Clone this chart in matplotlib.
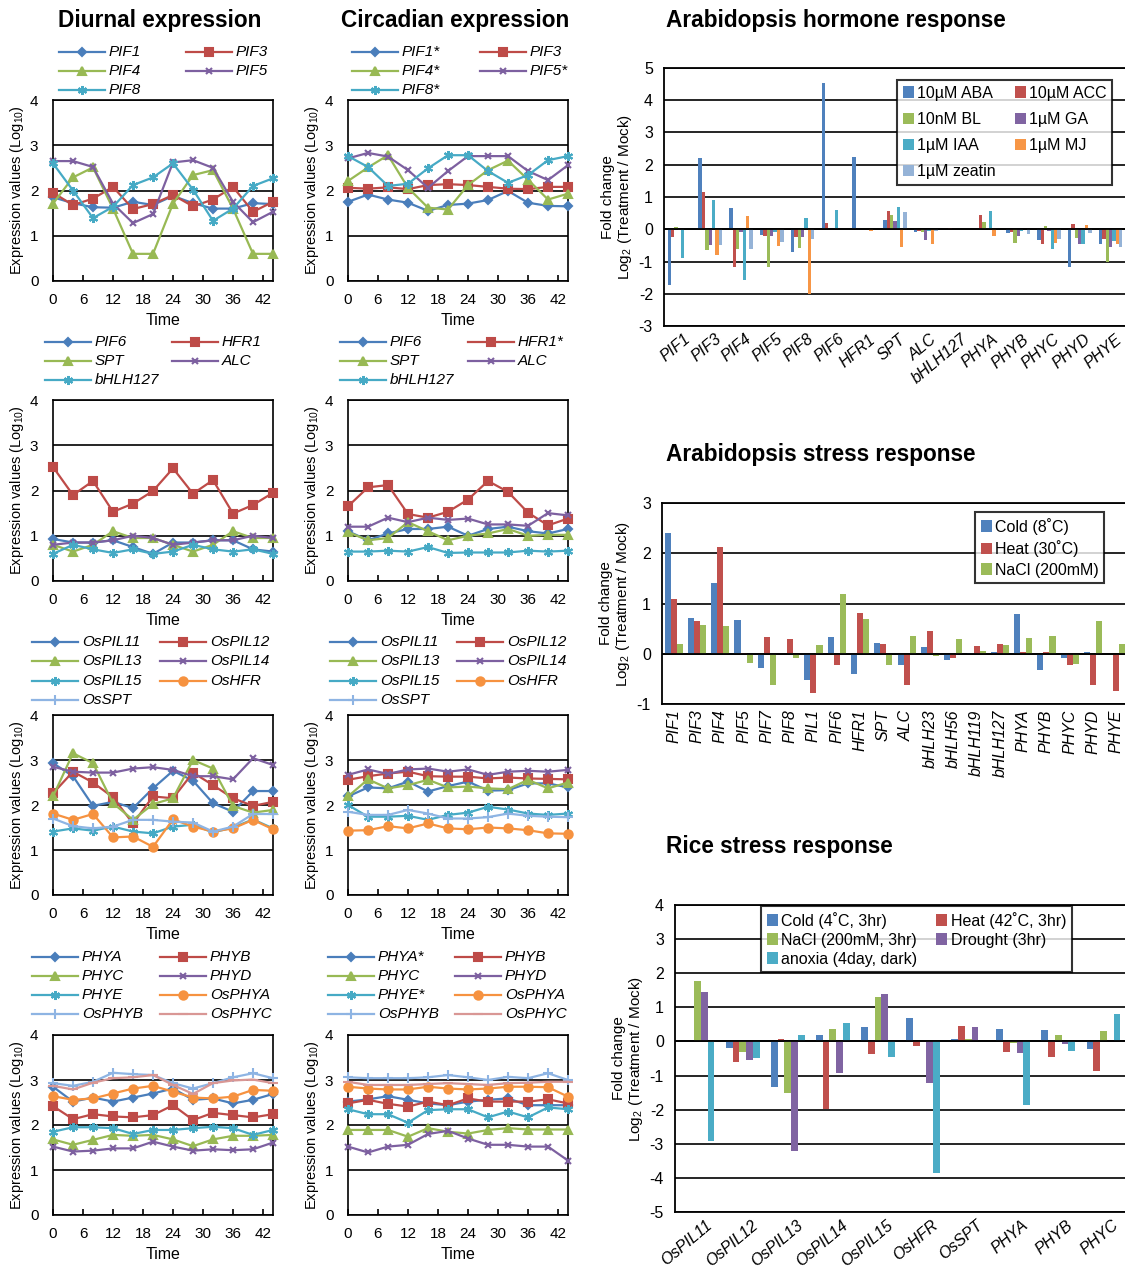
#!/usr/bin/env python3
"""PIF / phytochrome expression panels"""
import matplotlib
matplotlib.use('Agg')
import matplotlib.pyplot as plt
from matplotlib.lines import Line2D
from matplotlib.patches import Patch
from matplotlib.transforms import ScaledTranslation

plt.rcParams['font.family'] = ['Liberation Sans', 'DejaVu Sans']
plt.rcParams['mathtext.fontset'] = 'custom'
plt.rcParams['mathtext.rm'] = 'Liberation Sans'
plt.rcParams['mathtext.default'] = 'regular'
plt.rcParams['axes.unicode_minus'] = False

W, H = 1125, 1276

# ---------------- line panel data ----------------
time_h = [0, 4, 8, 12, 16, 20, 24, 28, 32, 36, 40, 44]
time_ticks = [0, 6, 12, 18, 24, 30, 36, 42]

pif_labels_d = ['PIF1', 'PIF3', 'PIF4', 'PIF5', 'PIF8']
pif_labels_c = ['PIF1*', 'PIF3', 'PIF4*', 'PIF5*', 'PIF8*']
pif_diurnal = [
    [1.85, 1.72, 1.63, 1.62, 1.75, 1.68, 1.88, 1.72, 1.60, 1.60, 1.72, 1.70],
    [1.95, 1.68, 1.82, 2.08, 1.59, 1.70, 1.90, 1.65, 1.80, 2.08, 1.53, 1.75],
    [1.71, 2.29, 2.51, 1.60, 0.60, 0.60, 1.71, 2.34, 2.45, 1.60, 0.60, 0.60],
    [2.65, 2.65, 2.52, 1.71, 1.28, 1.48, 2.62, 2.67, 2.50, 1.75, 1.30, 1.53],
    [2.60, 2.00, 1.39, 1.64, 2.12, 2.29, 2.60, 2.02, 1.33, 1.60, 2.10, 2.27],
]
pif_circadian = [
    [1.75, 1.91, 1.80, 1.73, 1.55, 1.68, 1.71, 1.79, 1.99, 1.73, 1.66, 1.65],
    [2.06, 2.04, 2.07, 2.03, 2.12, 2.14, 2.12, 2.08, 2.04, 2.03, 2.08, 2.08],
    [2.21, 2.51, 2.78, 2.06, 1.62, 1.58, 2.12, 2.45, 2.66, 2.24, 1.80, 1.93],
    [2.71, 2.83, 2.75, 2.45, 2.06, 2.43, 2.76, 2.76, 2.76, 2.43, 2.23, 2.56],
    [2.76, 2.52, 2.10, 2.15, 2.49, 2.78, 2.78, 2.43, 2.17, 2.34, 2.67, 2.76],
]

misc_labels_d = ['PIF6', 'HFR1', 'SPT', 'ALC', 'bHLH127']
misc_labels_c = ['PIF6', 'HFR1*', 'SPT', 'ALC', 'bHLH127']
misc_diurnal = [
    [0.93, 0.85, 0.85, 0.90, 0.75, 0.60, 0.85, 0.85, 0.90, 0.90, 0.70, 0.65],
    [2.52, 1.90, 2.21, 1.53, 1.71, 1.99, 2.49, 1.93, 2.23, 1.49, 1.68, 1.95],
    [0.80, 0.65, 0.80, 1.10, 0.95, 0.95, 0.80, 0.65, 0.80, 1.10, 0.95, 0.95],
    [0.80, 0.85, 0.85, 0.90, 1.00, 0.95, 0.80, 0.85, 0.90, 0.90, 1.00, 0.95],
    [0.60, 0.80, 0.70, 0.62, 0.70, 0.60, 0.65, 0.80, 0.70, 0.65, 0.70, 0.60],
]
misc_circadian = [
    [1.10, 0.90, 1.05, 1.15, 1.15, 1.20, 1.00, 1.15, 1.20, 1.10, 1.05, 1.15],
    [1.65, 2.07, 2.12, 1.48, 1.40, 1.53, 1.80, 2.21, 1.97, 1.51, 1.23, 1.38],
    [1.08, 0.90, 0.95, 1.30, 1.10, 0.90, 1.00, 1.05, 1.15, 1.00, 1.02, 1.02],
    [1.20, 1.20, 1.40, 1.30, 1.40, 1.35, 1.38, 1.25, 1.25, 1.22, 1.50, 1.45],
    [0.65, 0.65, 0.67, 0.65, 0.75, 0.62, 0.63, 0.63, 0.63, 0.67, 0.65, 0.67],
]

rice_labels = ['OsPIL11', 'OsPIL12', 'OsPIL13', 'OsPIL14', 'OsPIL15', 'OsHFR', 'OsSPT']
rice_diurnal = [
    [2.93, 2.64, 1.98, 2.07, 1.93, 2.37, 2.76, 2.54, 2.04, 1.85, 2.31, 2.31],
    [2.26, 2.74, 2.50, 2.17, 1.59, 2.19, 2.15, 2.72, 2.44, 2.15, 1.98, 2.07],
    [2.19, 3.15, 2.93, 2.04, 1.67, 2.02, 2.15, 3.00, 2.81, 1.98, 1.83, 1.89],
    [2.85, 2.74, 2.72, 2.72, 2.81, 2.84, 2.78, 2.64, 2.64, 2.57, 3.04, 2.89],
    [1.41, 1.48, 1.43, 1.52, 1.41, 1.37, 1.52, 1.56, 1.39, 1.50, 1.68, 1.48],
    [1.81, 1.67, 1.80, 1.28, 1.30, 1.07, 1.68, 1.52, 1.41, 1.48, 1.67, 1.46],
    [1.70, 1.53, 1.48, 1.52, 1.67, 1.67, 1.63, 1.61, 1.41, 1.52, 1.80, 1.80],
]
rice_circadian = [
    [2.19, 2.39, 2.37, 2.52, 2.30, 2.42, 2.52, 2.32, 2.33, 2.48, 2.48, 2.39],
    [2.56, 2.64, 2.70, 2.74, 2.64, 2.63, 2.63, 2.59, 2.61, 2.59, 2.58, 2.57],
    [2.19, 2.57, 2.37, 2.44, 2.56, 2.39, 2.41, 2.37, 2.35, 2.56, 2.37, 2.50],
    [2.67, 2.79, 2.69, 2.79, 2.81, 2.74, 2.79, 2.67, 2.74, 2.76, 2.74, 2.78],
    [2.00, 1.74, 1.74, 1.76, 1.67, 1.78, 1.83, 1.96, 1.90, 1.81, 1.78, 1.81],
    [1.43, 1.44, 1.53, 1.48, 1.59, 1.48, 1.46, 1.50, 1.48, 1.44, 1.37, 1.36],
    [1.85, 1.78, 1.78, 1.89, 1.81, 1.70, 1.70, 1.73, 1.81, 1.76, 1.74, 1.73],
]

phy_labels_d = ['PHYA', 'PHYB', 'PHYC', 'PHYD', 'PHYE', 'OsPHYA', 'OsPHYB', 'OsPHYC']
phy_labels_c = ['PHYA*', 'PHYB', 'PHYC', 'PHYD', 'PHYE*', 'OsPHYA', 'OsPHYB', 'OsPHYC']
phy_diurnal = [
    [2.85, 2.52, 2.61, 2.52, 2.61, 2.70, 2.81, 2.56, 2.59, 2.48, 2.56, 2.69],
    [2.42, 2.13, 2.24, 2.19, 2.17, 2.22, 2.44, 2.11, 2.27, 2.22, 2.17, 2.24],
    [1.68, 1.56, 1.67, 1.78, 1.76, 1.78, 1.68, 1.53, 1.68, 1.76, 1.76, 1.78],
    [1.52, 1.41, 1.43, 1.48, 1.48, 1.63, 1.52, 1.43, 1.46, 1.44, 1.46, 1.61],
    [1.85, 1.95, 1.95, 1.93, 1.80, 1.89, 1.89, 1.93, 1.96, 1.93, 1.78, 1.89],
    [2.64, 2.56, 2.59, 2.70, 2.81, 2.87, 2.74, 2.61, 2.59, 2.63, 2.78, 2.76],
    [2.93, 2.87, 2.96, 3.16, 3.13, 3.11, 2.93, 2.81, 2.93, 3.06, 3.15, 3.04],
    [2.87, 2.79, 2.94, 3.04, 3.06, 3.11, 2.89, 2.69, 2.93, 2.99, 3.01, 2.93],
]
phy_circadian = [
    [2.52, 2.57, 2.64, 2.56, 2.48, 2.44, 2.52, 2.56, 2.59, 2.44, 2.44, 2.44],
    [2.48, 2.56, 2.47, 2.41, 2.52, 2.44, 2.59, 2.52, 2.52, 2.52, 2.57, 2.48],
    [1.89, 1.89, 1.89, 1.74, 1.93, 1.85, 1.81, 1.89, 1.93, 1.90, 1.90, 1.90],
    [1.52, 1.39, 1.52, 1.56, 1.80, 1.87, 1.70, 1.56, 1.56, 1.52, 1.52, 1.21],
    [2.35, 2.24, 2.24, 2.05, 2.33, 2.35, 2.35, 2.17, 2.30, 2.17, 2.39, 2.35],
    [2.85, 2.81, 2.79, 2.79, 2.85, 2.81, 2.79, 2.81, 2.85, 2.85, 2.84, 2.63],
    [3.06, 3.04, 3.04, 3.04, 3.06, 3.11, 3.06, 3.00, 3.07, 3.04, 3.15, 3.00],
    [2.96, 2.89, 2.89, 2.89, 2.91, 2.93, 2.91, 2.89, 2.93, 2.94, 2.96, 2.96],
]

# ---------------- bar chart data ----------------
hormone_genes = ['PIF1', 'PIF3', 'PIF4', 'PIF5', 'PIF8', 'PIF6', 'HFR1', 'SPT', 'ALC',
                 'bHLH127', 'PHYA', 'PHYB', 'PHYC', 'PHYD', 'PHYE']
hormone_names = ['10µM ABA', '10µM ACC', '10nM BL', '1µM GA', '1µM IAA', '1µM MJ', '1µM zeatin']
aba = [-1.72, 2.20, 0.67, -0.18, -0.70, 4.55, 2.25, 0.30, -0.10, 0.00, 0.00, -0.12, -0.33, -1.18, -0.47]
acc = [-0.25, 1.15, -1.17, -0.20, -0.25, 0.20, 0.00, 0.57, -0.05, 0.03, 0.43, -0.08, -0.47, 0.17, -0.30]
bl = [0.07, -0.65, -0.60, -1.18, -0.57, 0.00, 0.00, 0.45, -0.08, 0.00, 0.23, -0.43, 0.10, -0.28, -1.00]
ga = [-0.03, -0.50, -0.10, -0.22, -0.25, 0.00, 0.00, 0.27, -0.33, 0.00, 0.05, -0.20, -0.05, -0.45, -0.55]
iaa = [-0.88, 0.92, -1.57, -0.10, 0.35, 0.60, 0.00, 0.70, -0.05, 0.00, 0.58, -0.05, -0.60, -0.45, -0.35]
mj = [0.00, -0.80, 0.40, -0.52, -2.00, 0.00, -0.05, -0.55, -0.47, 0.00, -0.22, 0.00, -0.42, 0.12, -0.45]
zeatin = [0.00, -0.50, -0.62, -0.40, -0.30, 0.00, 0.00, 0.55, -0.05, 0.00, 0.00, -0.15, -0.30, -0.12, -0.55]

stress_genes = ['PIF1', 'PIF3', 'PIF4', 'PIF5', 'PIF7', 'PIF8', 'PIL1', 'PIF6', 'HFR1', 'SPT',
                'ALC', 'bHLH23', 'bHLH56', 'bHLH119', 'bHLH127', 'PHYA', 'PHYB', 'PHYC',
                'PHYD', 'PHYE']
stress_names = ['Cold (8˚C)', 'Heat (30˚C)', 'NaCl (200mM)']
cold8 = [2.40, 0.72, 1.40, 0.68, -0.28, 0.00, -0.53, 0.33, -0.40, 0.22,
         -0.22, 0.13, -0.13, 0.02, 0.03, 0.80, -0.33, -0.08, 0.03, 0.00]
heat30 = [1.08, 0.65, 2.13, 0.02, 0.33, 0.30, -0.78, -0.22, 0.82, 0.20,
          -0.63, 0.45, -0.09, 0.16, 0.20, 0.03, 0.03, -0.22, -0.63, -0.75]
nacl200 = [0.20, 0.58, 0.55, -0.18, -0.62, -0.08, 0.18, 1.18, 0.69, -0.22,
           0.36, -0.04, 0.29, 0.06, 0.17, 0.31, 0.35, -0.20, 0.66, 0.20]

rice_genes = ['OsPIL11', 'OsPIL12', 'OsPIL13', 'OsPIL14', 'OsPIL15', 'OsHFR', 'OsSPT',
              'PHYA', 'PHYB', 'PHYC']
rice_names = ['Cold (4˚C, 3hr)', 'Heat (42˚C, 3hr)', 'NaCl (200mM, 3hr)', 'Drought (3hr)',
              'anoxia (4day, dark)']
cold4 = [0.00, -0.18, -1.35, 0.20, 0.42, 0.68, 0.06, 0.37, 0.33, -0.22]
heat42 = [0.00, -0.60, 0.08, -1.97, -0.38, -0.13, 0.45, -0.32, -0.47, -0.87]
nacl_r = [1.78, -0.32, -1.52, 0.37, 1.30, 0.00, 0.08, -0.05, 0.20, 0.30]
drought = [1.45, -0.55, -3.22, -0.93, 1.40, -1.22, 0.42, -0.35, -0.08, 0.00]
anoxia = [-2.92, -0.48, 0.20, 0.55, -0.45, -3.85, 0.00, -1.87, -0.27, 0.80]

# ---------------- styles ----------------
LINE_COLORS = ['#4A7EBB', '#BE4B48', '#98B954', '#7D60A0', '#46AAC5', '#F69240', '#8EB4E3', '#D99795']
MARKERS = [('D', 4.5), ('s', 5.5), ('^', 6), ('x', 5), ((6, 2, 0), 6.5), ('o', 6), ('+', 7.5), ('_', 7.5)]
BAR_COLORS = ['#4F81BD', '#C0504D', '#9BBB59', '#8064A2', '#4BACC6', '#F79646', '#95B3D7']

fig = plt.figure(figsize=(W / 100, H / 100), dpi=100)


def rect(l, t, r, b):
    return [l / W, 1 - b / H, (r - l) / W, (b - t) / H]


def line_panel(box, series, labels, cols, rows):
    ax = fig.add_axes(rect(*box))
    for i, vals in enumerate(series):
        m, ms = MARKERS[i]
        ax.plot(time_h, vals, color=LINE_COLORS[i], lw=1.6, marker=m, ms=ms,
                mfc=LINE_COLORS[i], mec=LINE_COLORS[i], mew=1.5, clip_on=False, zorder=3)
        # legend swatch
        x0 = cols[i % 2]
        y = 1 - rows[i // 2] / H
        fig.add_artist(Line2D([x0 / W, (x0 + 46) / W], [y, y], color=LINE_COLORS[i], lw=1.6))
        fig.add_artist(Line2D([(x0 + 23) / W], [y], color=LINE_COLORS[i], marker=m, ms=ms,
                              mfc=LINE_COLORS[i], mec=LINE_COLORS[i], mew=1.5))
        fig.text((x0 + 50) / W, y, labels[i], fontsize=11, style='italic', va='center', ha='left')
    ax.set_xlim(0, 44)
    ax.set_ylim(0, 4)
    ax.set_xticks(time_ticks)
    ax.set_yticks([0, 1, 2, 3, 4])
    ax.yaxis.grid(True, color='black', lw=1.2)
    ax.set_axisbelow(True)
    ax.tick_params(axis='x', direction='in', length=4, width=1.2, labelsize=11, pad=8.5)
    ax.tick_params(axis='y', length=0, labelsize=11, pad=10.5)
    for s in ax.spines.values():
        s.set_linewidth(1.2)
    ax.set_xlabel('Time', fontsize=11.5, labelpad=4.5)
    ax.set_ylabel('Expression values (Log$_{10}$)', fontsize=10.5, labelpad=3)
    return ax


def bar_panel(box, genes, series, names, ylim, width, rot, dx, legend_at, ncol, lsp):
    ax = fig.add_axes(rect(*box))
    n = len(series)
    x = list(range(len(genes)))
    handles = []
    for j, vals in enumerate(series):
        off = (j - (n - 1) / 2) * width
        ax.bar([xi + off for xi in x], vals, width=width, color=BAR_COLORS[j], zorder=3)
        handles.append(Patch(facecolor=BAR_COLORS[j], edgecolor='none'))
    ax.set_xlim(-0.5, len(genes) - 0.5)
    ax.set_ylim(*ylim)
    ax.set_yticks(range(ylim[0], ylim[1] + 1))
    ax.yaxis.grid(True, color='black', lw=1.2)
    ax.axhline(0, color='black', lw=1.3, zorder=4)
    ax.set_axisbelow(True)
    ax.tick_params(axis='y', length=0, labelsize=11.5, pad=8)
    ax.tick_params(axis='x', length=0, labelsize=11.5, pad=4)
    for s in ax.spines.values():
        s.set_linewidth(1.3)
    ax.spines['right'].set_visible(False)
    if rot == 90:
        ax.set_xticks(x, genes, rotation=90, ha='center', va='top', style='italic')
    else:
        ax.set_xticks(x, genes, rotation=rot, ha='right', va='top', rotation_mode='anchor',
                      style='italic')
        for lbl in ax.get_xticklabels():
            lbl.set_transform(lbl.get_transform() + ScaledTranslation(dx / 100, 0, fig.dpi_scale_trans))
    ax.set_ylabel('Fold change\nLog$_2$ (Treatment / Mock)', fontsize=11, labelpad=3, linespacing=1.1)
    if ncol == 2:
        handles = handles[0::2] + handles[1::2]
        names = names[0::2] + names[1::2]
    leg = ax.legend(handles, names, ncol=ncol, loc='upper left',
                    bbox_to_anchor=(legend_at[0] / W, 1 - legend_at[1] / H),
                    bbox_transform=fig.transFigure, fontsize=11.5, frameon=True, fancybox=False,
                    edgecolor='black', handlelength=0.7, handleheight=0.7, handletextpad=0.2,
                    labelspacing=lsp, columnspacing=1.2, borderpad=0.35, borderaxespad=0)
    leg.get_frame().set_linewidth(1.5)
    leg.set_zorder(10)
    return ax


# ---------------- left columns: line panels ----------------
line_panel((53, 100, 273, 281), pif_diurnal, pif_labels_d, (59, 186), (52, 71, 90))
line_panel((348, 100, 568, 281), pif_circadian, pif_labels_c, (352, 480), (52, 71, 90))
line_panel((53, 400, 273, 581), misc_diurnal, misc_labels_d, (45, 172), (342, 361, 380))
line_panel((348, 400, 568, 581), misc_circadian, misc_labels_c, (340, 468), (342, 361, 380))
line_panel((53, 715, 273, 895), rice_diurnal, rice_labels, (32, 160), (642, 661, 681, 700))
line_panel((348, 715, 568, 895), rice_circadian, rice_labels, (330, 457), (642, 661, 681, 700))
line_panel((53, 1035, 273, 1215), phy_diurnal, phy_labels_d, (32, 160), (957, 976, 995, 1014))
line_panel((348, 1035, 568, 1215), phy_circadian, phy_labels_c, (328, 455), (957, 976, 995, 1014))

fig.text(160 / W, 1 - 20 / H, 'Diurnal expression', fontsize=16.3, fontweight='bold',
         ha='center', va='center')
fig.text(455 / W, 1 - 20 / H, 'Circadian expression', fontsize=16.3, fontweight='bold',
         ha='center', va='center')

# ---------------- right column: bar charts ----------------
bar_panel((664, 68, 1126, 326), hormone_genes, [aba, acc, bl, ga, iaa, mj, zeatin],
          hormone_names, (-3, 5), 0.11, 40, 4, (897, 80), 2, 0.7)
bar_panel((662, 503, 1128, 704), stress_genes, [cold8, heat30, nacl200],
          stress_names, (-1, 3), 0.26, 90, 0, (975, 512), 1, 0.35)
bar_panel((675, 905, 1126, 1212), rice_genes, [cold4, heat42, nacl_r, drought, anoxia],
          rice_names, (-5, 4), 0.15, 40, 8, (761, 906), 2, 0.25)

fig.text(666 / W, 1 - 20 / H, 'Arabidopsis hormone response', fontsize=16.3,
         fontweight='bold', ha='left', va='center')
fig.text(666 / W, 1 - 455 / H, 'Arabidopsis stress response', fontsize=16.3,
         fontweight='bold', ha='left', va='center')
fig.text(666 / W, 1 - 847 / H, 'Rice stress response', fontsize=16.3,
         fontweight='bold', ha='left', va='center')

plt.savefig('out.png', dpi=100)
print("saved out.png")
plt.close()
